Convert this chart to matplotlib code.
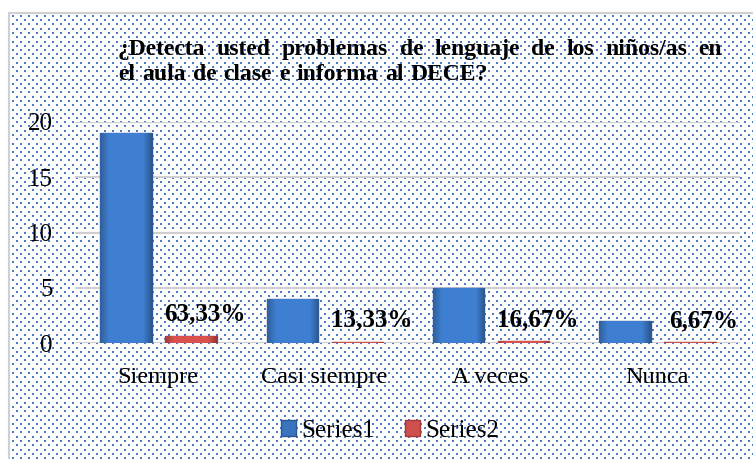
import numpy as np
import matplotlib
matplotlib.use('Agg')
import matplotlib.pyplot as plt
from matplotlib.patches import Rectangle, Patch

# Дані
categories = ['Siempre', 'Casi siempre', 'A veces', 'Nunca']
series1 = [19, 4, 5, 2]
series2 = [0.6333, 0.1333, 0.1667, 0.0667]
series2_labels = ['63,33%', '13,33%', '16,67%', '6,67%']
title_lines = ['¿Detecta usted problemas de lenguaje de los niños/as en',
               'el aula de clase e informa al DECE?']

W, H = 753, 459
plt.rcParams['font.family'] = ['Liberation Serif', 'DejaVu Serif']

fig = plt.figure(figsize=(W / 100, H / 100), dpi=100)
fig.patch.set_facecolor('white')

# Крапчастий фон як у Excel
bg = np.ones((H, W, 3))
dot = np.array([0.30, 0.48, 0.77])
r = 0
while True:
    y = 15 + int(round(4.25 * r))
    if y >= H:
        break
    x0 = 12 + (4 if r % 2 else 0)
    for x in range(x0, W, 8):
        bg[y:y + 2, x:x + 2] = dot
    r += 1
fig.figimage(bg, 0, 0, zorder=-10)
fig.patches.append(Rectangle((9 / W, -0.1), 1.0, 1.1 - 13 / H, transform=fig.transFigure,
                             fill=False, edgecolor='#d0d0d0', linewidth=1.5, zorder=-5))

ax = fig.add_axes([75 / W, 116 / H, 665 / W, 221 / H])
ax.patch.set_alpha(0)

x = np.arange(len(categories))
w = 0.31
bars1 = ax.bar(x - 0.193, series1, w, color='#3a74bf', edgecolor='#2a5894', linewidth=1, zorder=3)
bars2 = ax.bar(x + 0.199, series2, w, color='#d0504d', edgecolor='#a33a38', linewidth=1, zorder=3)

# Легкий об'ємний ефект (градієнт по ширині стовпця)
prof = np.concatenate([np.linspace(0.75, 1.0, 6), np.ones(20), np.linspace(1.0, 0.7, 6)])
for bars, base in ((bars1, np.array([0.25, 0.50, 0.82])), (bars2, np.array([0.85, 0.32, 0.30]))):
    grad = np.clip(prof[None, :, None] * base[None, None, :], 0, 1)
    for b in bars:
        im = ax.imshow(grad, extent=(b.get_x(), b.get_x() + b.get_width(), 0, b.get_height()),
                       aspect='auto', zorder=3.5, interpolation='bilinear')
        im.set_clip_path(b)

for xi, v, lab in zip(x, series2, series2_labels):
    ax.annotate(lab, (xi + 0.199, v), xytext=(10, 11), textcoords='offset points',
                ha='center', va='baseline', fontsize=18, fontweight='bold', zorder=5)

ax.set_xlim(-0.5, 3.5)
ax.set_ylim(0, 20)
ax.set_yticks([0, 5, 10, 15, 20])
ax.set_xticks(x)
ax.set_xticklabels(categories)
ax.tick_params(axis='y', length=0, pad=16, labelsize=18)
ax.tick_params(axis='x', length=0, pad=17, labelsize=17.5)
ax.yaxis.grid(True, color='#cfcfcf', linewidth=1.5, zorder=0)
ax.set_axisbelow(True)
for s in ax.spines.values():
    s.set_visible(False)

# Заголовок вирівняний по ширині, як у Word
renderer = fig.canvas.get_renderer()


def justified(line, x_left, x_right, y_base):
    words = line.split(' ')
    texts = [fig.text(0, 1 - y_base / H, wd, fontsize=17, fontweight='bold', va='baseline')
             for wd in words]
    widths = [t.get_window_extent(renderer).width for t in texts]
    gap = (x_right - x_left - sum(widths)) / (len(words) - 1)
    pos = x_left
    for t, wd in zip(texts, widths):
        t.set_x(pos / W)
        pos += wd + gap


justified(title_lines[0], 118, 722, 55)
justified(title_lines[1], 118, 488, 80)

handles = [Patch(facecolor='#3a74bf', edgecolor='#2a5894'),
           Patch(facecolor='#d0504d', edgecolor='#a33a38')]
fig.legend(handles, ['Series1', 'Series2'], loc='center', bbox_to_anchor=(390 / W, 1 - 431 / H),
           ncol=2, frameon=False, fontsize=18, handlelength=0.6, handleheight=0.6,
           handletextpad=0.2, columnspacing=1.2)

fig.savefig('out.png', dpi=100)
